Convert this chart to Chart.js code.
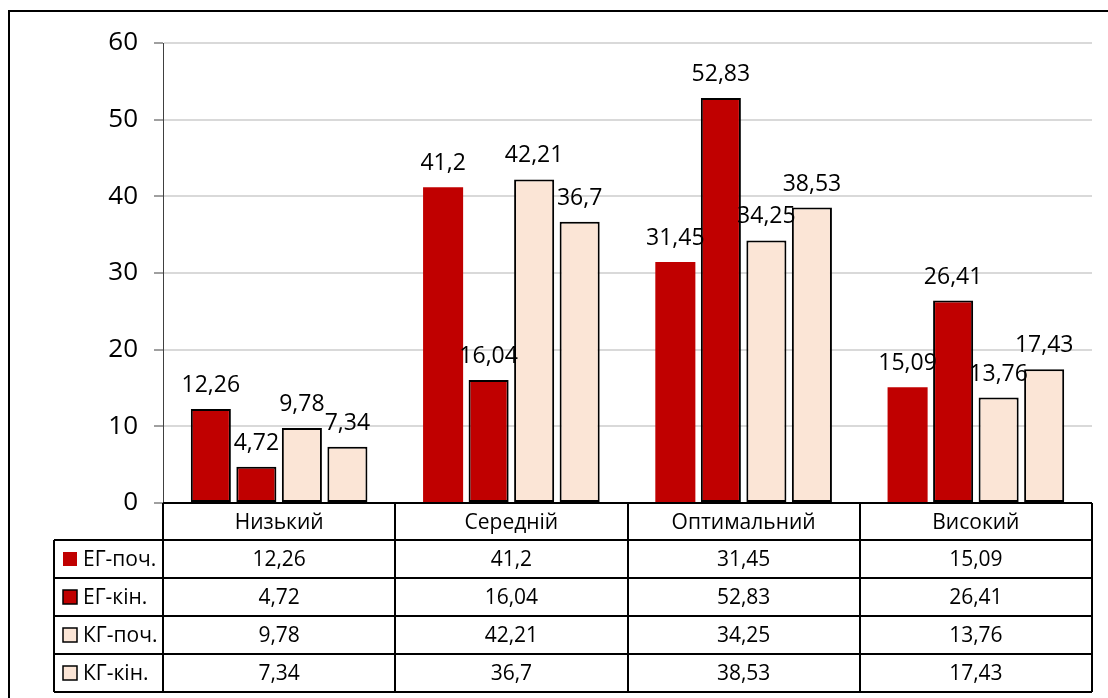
<!DOCTYPE html>
<html lang="uk">
<head>
    <meta charset="UTF-8">
    <title>Рівні сформованості</title>
    <script src="https://cdn.jsdelivr.net/npm/chart.js"></script>
    <style>
        body {
            margin: 0;
            padding: 0;
            background: #ffffff;
        }
        canvas {
            display: block;
        }
    </style>
</head>
<body>
    <canvas id="rivniChart" width="1108" height="698"></canvas>

    <script>
        // Дані по рівнях (у відсотках)
        const categories = ['Низький', 'Середній', 'Оптимальний', 'Високий'];
        const seriesNames = ['ЕГ-поч.', 'ЕГ-кін.', 'КГ-поч.', 'КГ-кін.'];
        const egStart = [12.26, 41.2, 31.45, 15.09];
        const egEnd = [4.72, 16.04, 52.83, 26.41];
        const kgStart = [9.78, 42.21, 34.25, 13.76];
        const kgEnd = [7.34, 36.7, 38.53, 17.43];
        const yMin = 0;
        const yMax = 60;
        const yStep = 10;

        const RED = '#c00000';
        const PEACH = '#fbe5d6';
        const FONT = "'Open Sans', sans-serif";

        const fmt = v => String(v).replace('.', ',');

        // підписи значень над стовпцями
        const valueLabels = {
            id: 'valueLabels',
            afterDatasetsDraw(chart) {
                const ctx = chart.ctx;
                ctx.save();
                ctx.font = '23px ' + FONT;
                ctx.fillStyle = '#000';
                ctx.textAlign = 'center';
                ctx.textBaseline = 'alphabetic';
                chart.data.datasets.forEach((ds, i) => {
                    chart.getDatasetMeta(i).data.forEach((bar, j) => {
                        ctx.fillText(fmt(ds.data[j]), bar.x, bar.y - 17);
                    });
                });
                ctx.restore();
            }
        };

        // таблиця даних під графіком + рамка
        const dataTable = {
            id: 'dataTable',
            afterDraw(chart) {
                const ctx = chart.ctx;
                const area = chart.chartArea;
                const xs = chart.scales.x;
                const half = area.width / categories.length / 2;
                const headerH = 37;
                const rowH = 38;
                const keyLeft = 54;
                const top = area.bottom;
                const rowsTop = top + headerH;
                const bottom = rowsTop + rowH * seriesNames.length;

                ctx.save();
                ctx.strokeStyle = '#000';
                ctx.lineWidth = 2;

                // вертикальні лінії колонок
                for (let i = 0; i <= categories.length; i++) {
                    const x = Math.round(area.left + half * 2 * i);
                    ctx.beginPath();
                    ctx.moveTo(x, top);
                    ctx.lineTo(x, bottom);
                    ctx.stroke();
                }
                // ліва межа колонки легенди
                ctx.beginPath();
                ctx.moveTo(keyLeft, rowsTop);
                ctx.lineTo(keyLeft, bottom);
                ctx.stroke();

                // горизонтальні лінії
                ctx.beginPath();
                ctx.moveTo(area.left, top);
                ctx.lineTo(area.right, top);
                ctx.stroke();
                for (let r = 0; r <= seriesNames.length; r++) {
                    const y = Math.round(rowsTop + rowH * r);
                    ctx.beginPath();
                    ctx.moveTo(keyLeft, y);
                    ctx.lineTo(area.right, y);
                    ctx.stroke();
                }

                ctx.fillStyle = '#000';
                ctx.font = '21px ' + FONT;
                ctx.textAlign = 'center';
                ctx.textBaseline = 'alphabetic';

                // назви категорій
                categories.forEach((c, j) => {
                    ctx.fillText(c, xs.getPixelForValue(j), top + headerH / 2 + 7);
                });

                // рядки значень
                chart.data.datasets.forEach((ds, i) => {
                    const cy = rowsTop + rowH * i + rowH / 2;
                    ctx.textAlign = 'center';
                    ctx.fillStyle = '#000';
                    ds.data.forEach((v, j) => {
                        ctx.fillText(fmt(v), xs.getPixelForValue(j), cy + 7);
                    });

                    // ключ легенди
                    ctx.fillStyle = ds.backgroundColor;
                    ctx.fillRect(63, cy - 7, 14, 14);
                    if (i > 0) {
                        ctx.lineWidth = 1.5;
                        ctx.strokeRect(63, cy - 7, 14, 14);
                        ctx.lineWidth = 2;
                    }
                    ctx.fillStyle = '#000';
                    ctx.textAlign = 'left';
                    ctx.fillText(ds.label, 83, cy + 7);
                });

                // зовнішня рамка
                ctx.lineWidth = 2;
                ctx.strokeRect(9, 11, 1200, 800);
                ctx.restore();
            }
        };

        const ctx = document.getElementById('rivniChart').getContext('2d');
        const barStyle = {
            barPercentage: 0.88,
            categoryPercentage: 0.784,
            borderColor: '#000',
            borderSkipped: false
        };

        new Chart(ctx, {
            type: 'bar',
            data: {
                labels: categories,
                datasets: [
                    { ...barStyle, label: seriesNames[0], data: egStart, backgroundColor: RED, borderWidth: [2, 0, 0, 0] },
                    { ...barStyle, label: seriesNames[1], data: egEnd, backgroundColor: RED, borderWidth: 2 },
                    { ...barStyle, label: seriesNames[2], data: kgStart, backgroundColor: PEACH, borderWidth: 2 },
                    { ...barStyle, label: seriesNames[3], data: kgEnd, backgroundColor: PEACH, borderWidth: 2 }
                ]
            },
            options: {
                responsive: false,
                animation: false,
                layout: {
                    padding: { left: 0, top: 43, right: 16, bottom: 195 }
                },
                plugins: {
                    legend: { display: false },
                    tooltip: { enabled: false }
                },
                scales: {
                    x: {
                        display: false
                    },
                    y: {
                        min: yMin,
                        max: yMax,
                        afterFit(scale) {
                            scale.width = 163;
                        },
                        ticks: {
                            stepSize: yStep,
                            color: '#000',
                            padding: 16,
                            font: { family: FONT, size: 26 }
                        },
                        grid: {
                            color: '#d9d9d9',
                            lineWidth: 2,
                            tickColor: '#404040',
                            tickLength: 9,
                            tickWidth: 1
                        },
                        border: {
                            color: '#404040',
                            width: 1
                        }
                    }
                }
            },
            plugins: [valueLabels, dataTable]
        });
    </script>
</body>
</html>
